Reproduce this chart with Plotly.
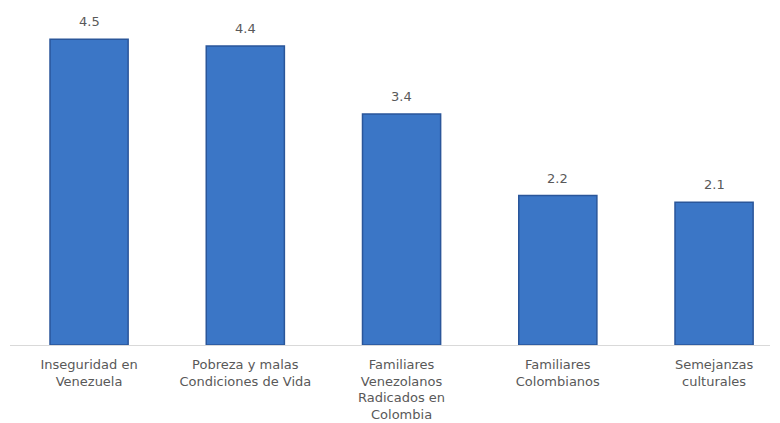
import plotly.graph_objects as go

categories = [
    "Inseguridad en<br>Venezuela",
    "Pobreza y malas<br>Condiciones de Vida",
    "Familiares<br>Venezolanos<br>Radicados en<br>Colombia",
    "Familiares<br>Colombianos",
    "Semejanzas<br>culturales",
]
values = [4.5, 4.4, 3.4, 2.2, 2.1]
value_labels = ["4.5", "4.4", "3.4", "2.2", "2.1"]

FONT = "DejaVu Sans, Open Sans, sans-serif"
xs = list(range(len(categories)))

fig = go.Figure(
    go.Bar(
        x=xs,
        y=values,
        width=0.5,
        marker=dict(color="#3B76C6", line=dict(color="#2A569A", width=1.5)),
        hoverinfo="skip",
    )
)

for xi, v, lab in zip(xs, values, value_labels):
    fig.add_annotation(
        x=xi, y=v, text=lab, showarrow=False,
        yanchor="bottom", yshift=8,
        font=dict(family=FONT, size=13, color="#595959"),
    )

fig.update_layout(
    width=780,
    height=423,
    margin=dict(l=2, r=18, t=2, b=86),
    paper_bgcolor="white",
    plot_bgcolor="white",
    showlegend=False,
    xaxis=dict(
        range=[-0.506, 4.358],
        tickmode="array",
        tickvals=xs,
        ticktext=categories,
        tickfont=dict(family=FONT, size=13, color="#595959"),
        ticklabelstandoff=7,
        showline=True,
        linecolor="#D9D9D9",
        linewidth=1,
        showgrid=False,
        ticks="",
        zeroline=False,
        fixedrange=True,
    ),
    yaxis=dict(
        range=[0, 4.93],
        visible=False,
        showgrid=False,
        zeroline=False,
        fixedrange=True,
    ),
)

fig.write_html("out.html")
